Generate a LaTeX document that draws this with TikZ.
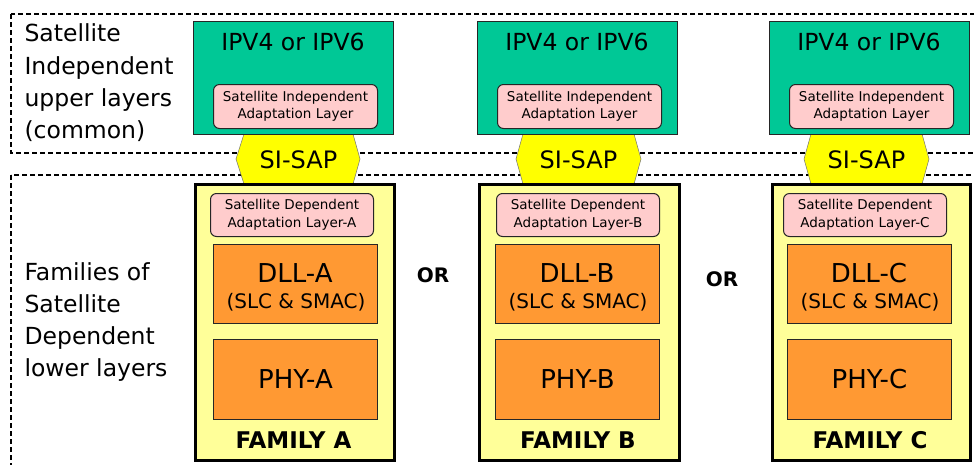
\documentclass[tikz,border=0pt]{standalone}
\usepackage{fontspec}
\setmainfont{DejaVu Sans}
\definecolor{tealc}{RGB}{0,200,150}
\definecolor{pinkc}{RGB}{255,204,204}
\definecolor{famyel}{RGB}{255,255,153}
\definecolor{orangec}{RGB}{255,153,51}
\definecolor{sapyel}{RGB}{255,255,0}
\tikzset{
  dashbox/.style={draw, line width=1.4pt, dash pattern=on 5pt off 3pt},
  upperbox/.style={draw=black!85, fill=tealc, line width=0.9pt, anchor=north west, inner sep=0pt},
  pinkbox/.style={draw=black!85, fill=pinkc, rounded corners=6pt, line width=1pt, anchor=north west, inner sep=0pt},
  fambox/.style={draw=black, fill=famyel, line width=2.6pt, anchor=north west, inner sep=0pt},
  orangebox/.style={draw=black!85, fill=orangec, line width=0.9pt, anchor=north west, inner sep=0pt},
  sapshape/.style={fill=sapyel, draw=black!55, line width=0.5pt},
  iptxt/.style={font=\fontsize{23.5}{27}\selectfont},
  saptxt/.style={font=\fontsize{24}{28}\selectfont},
  bigtxt/.style={font=\fontsize{26}{30}\selectfont},
  midtxt/.style={font=\fontsize{20}{24}\selectfont},
  smalltxt/.style={font=\fontsize{13.5}{17.5}\selectfont, align=center},
  sidetxt/.style={font=\fontsize{23.5}{32.3}\selectfont, align=left, anchor=west},
  boldtxt/.style={font=\fontsize{23}{27}\selectfont\bfseries},
  ortxt/.style={font=\fontsize{20}{24}\selectfont\bfseries},
}
\begin{document}
\begin{tikzpicture}[x=1pt,y=-1pt]
\useasboundingbox (0,0) rectangle (974,464);
\clip (0,0) rectangle (974,464);
% dashed region boxes
\coordinate (ua) at (11,14);
\coordinate (ub) at (990,153);
\coordinate (la) at (11,175);
\coordinate (lb) at (990,480);
\draw[dashbox] (ua) rectangle (ub);
\draw[dashbox] (la) rectangle (lb);
% side labels
\node[sidetxt] (uplabel) at (21,83) {Satellite\\Independent\\upper layers\\(common)};
\node[sidetxt] (lowlabel) at (21,322) {Families of\\Satellite\\Dependent\\lower layers};
% families
\foreach \L/\gl/\pl/\yl/\yw/\sl/\dl/\hta/\hm/\hr/\hmr in {
  A/193/213/194/199/210/213/244/236/353/360,
  B/477/497/478/200/496/495/523/516/634/641,
  C/769/789/771/198/783/787/811/804/922/929}{
  % SI-SAP hexagon
  \path[sapshape] (\hta,134) -- (\hr,134) -- (\hmr,159) -- (\hr,184) -- (\hta,184) -- (\hm,159) -- cycle;
  \node[saptxt] (sap\L) at ({(\hta+\hr)/2},160) {SI-SAP};
  % upper green box
  \node[upperbox, minimum width=200pt, minimum height=113pt] (ip\L) at (\gl,21) {};
  \node[iptxt] (iptxt\L) at (\gl+100,42) {IPV4 or IPV6};
  \node[pinkbox, minimum width=164pt, minimum height=44pt] (sial\L) at (\pl,84) {};
  \node[smalltxt] (sialtxt\L) at (sial\L.center) {Satellite Independent\\Adaptation Layer};
  % family box
  \node[fambox, minimum width=\yw pt, minimum height=276pt] (fam\L) at (\yl,183) {};
  \node[pinkbox, minimum width=163pt, minimum height=43pt] (sdal\L) at (\sl,193) {};
  \node[smalltxt] (sdaltxt\L) at (sdal\L.center) {Satellite Dependent\\Adaptation Layer-\L};
  \node[orangebox, minimum width=164pt, minimum height=79pt] (dll\L) at (\dl,244) {};
  \node[bigtxt] (dlltxt\L) at (\dl+82,273) {DLL-\L};
  \node[midtxt] (slctxt\L) at (\dl+83,302) {(SLC \& SMAC)};
  \node[orangebox, minimum width=164pt, minimum height=80pt] (phy\L) at (\dl,339) {};
  \node[bigtxt] (phytxt\L) at (phy\L.center) {PHY-\L};
  \node[boldtxt] (famtxt\L) at (\yl+\yw/2,440) {FAMILY \L};
}
\node[ortxt] (or1) at (433,275) {OR};
\node[ortxt] (or2) at (722,279) {OR};
\end{tikzpicture}
\end{document}
